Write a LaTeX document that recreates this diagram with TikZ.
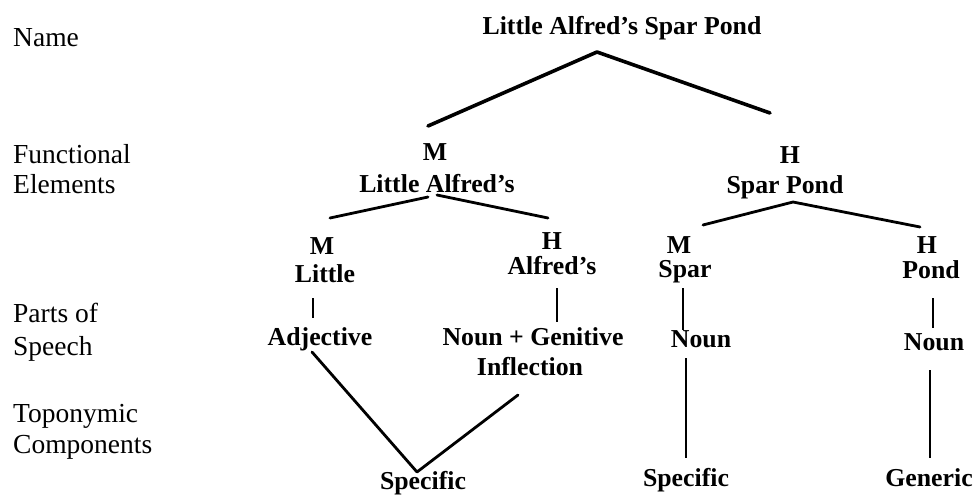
\documentclass[tikz,border=0pt]{standalone}
\usepackage{fontspec}
\setmainfont{Liberation Serif}
\begin{document}
\begin{tikzpicture}[x=1pt,y=-1pt,
  lbl/.style={anchor=base west,inner sep=0pt,font=\fontsize{27.5}{32}\selectfont},
  tn/.style={anchor=base,inner sep=0pt,font=\fontsize{25.8}{31}\selectfont\bfseries},
  topbranch/.style={line width=3.6pt,line cap=round,line join=round},
  branch/.style={line width=2.8pt,line cap=round,line join=round},
  stem/.style={line width=1.6pt}]
\useasboundingbox (0,0) rectangle (973,495);

% level labels on the left
\node[lbl] (lname) at (13,46) {Name};
\node[lbl] (lfun1) at (13,163) {Functional};
\node[lbl] (lfun2) at (13,193) {Elements};
\node[lbl] (lpos1) at (13,322) {Parts of};
\node[lbl] (lpos2) at (13,355) {Speech};
\node[lbl] (ltop1) at (13,422) {Toponymic};
\node[lbl] (ltop2) at (13,453) {Components};

% the name
\node[tn] (name) at (622,35) {Little Alfred’s Spar Pond};

% functional elements
\node[tn] (m1)  at (435,160) {M};
\node[tn] (la)  at (437,192) {Little Alfred’s};
\node[tn] (h1)  at (790,163) {H};
\node[tn] (sp)  at (785,193) {Spar Pond};

\node[tn] (m2)  at (322,254) {M};
\node[tn] (lit) at (325,282) {Little};
\node[tn] (h2)  at (552,249) {H};
\node[tn] (alf) at (552,274) {Alfred’s};
\node[tn] (m3)  at (679,253) {M};
\node[tn] (spr) at (685,277) {Spar};
\node[tn] (h3)  at (927,253) {H};
\node[tn] (pnd) at (931,278) {Pond};

% parts of speech
\node[tn] (adj)  at (320,345) {Adjective};
\node[tn] (ngen) at (533,345) {Noun + Genitive};
\node[tn] (infl) at (530,375) {Inflection};
\node[tn] (nsp)  at (701,347) {Noun};
\node[tn] (npd)  at (934,350) {Noun};

% toponymic components
\node[tn] (spec1) at (423,489) {Specific};
\node[tn] (spec2) at (686,486) {Specific};
\node[tn] (gen)   at (929,486) {Generic};

% branch end points
\coordinate (apex0) at (597,52);
\coordinate (top-l) at (428,126);
\coordinate (top-r) at (770,113);
\coordinate (la-apl) at (428,197);
\coordinate (la-apr) at (437,195);
\coordinate (la-l) at (330,218);
\coordinate (la-r) at (548,218);
\coordinate (sp-ap) at (793,202);
\coordinate (sp-l) at (703,225);
\coordinate (sp-r) at (920,227);
\coordinate (lit-a) at (313,298);
\coordinate (lit-b) at (313,318);
\coordinate (alf-a) at (557,288);
\coordinate (alf-b) at (557,322);
\coordinate (spr-a) at (683,288);
\coordinate (spr-b) at (683,330);
\coordinate (pnd-a) at (933,298);
\coordinate (pnd-b) at (933,328);
\coordinate (nsp-a) at (686,358);
\coordinate (nsp-b) at (686,458);
\coordinate (npd-a) at (930,370);
\coordinate (npd-b) at (930,458);
\coordinate (adj-a) at (312,352);
\coordinate (v-tip) at (417,472);
\coordinate (infl-a) at (518,395);

% branches
\draw[topbranch] (top-l) -- (apex0) -- (top-r);
\draw[branch] (la-l) -- (la-apl);
\draw[branch] (la-apr) -- (la-r);
\draw[branch] (sp-l) -- (sp-ap) -- (sp-r);
\draw[stem] (lit-a) -- (lit-b);
\draw[stem] (alf-a) -- (alf-b);
\draw[stem] (spr-a) -- (spr-b);
\draw[stem] (pnd-a) -- (pnd-b);
\draw[stem] (nsp-a) -- (nsp-b);
\draw[stem] (npd-a) -- (npd-b);
\draw[branch] (adj-a) -- (v-tip) -- (infl-a);
\end{tikzpicture}
\end{document}
